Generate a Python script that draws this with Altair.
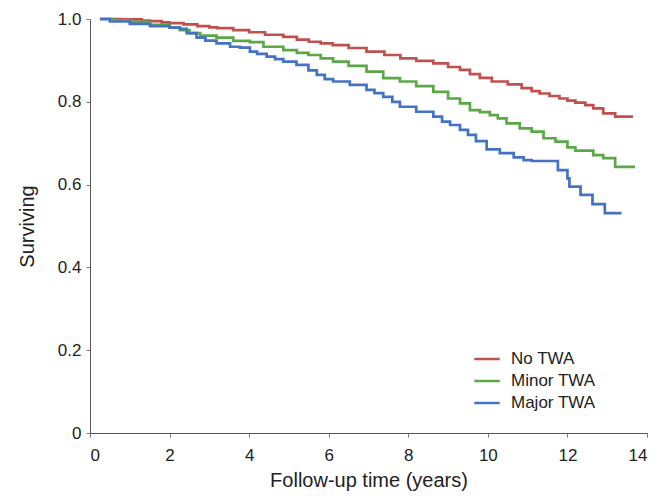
import altair as alt
import pandas as pd

no_t = [0.25, 0.8, 1.3, 1.5, 1.8, 2.0, 2.35, 2.7, 3.0, 3.2, 3.6, 4.0, 4.4, 4.86, 5.2, 5.5, 5.8, 6.1,
        6.5, 6.95, 7.4, 7.8, 8.2, 8.63, 9.0, 9.3, 9.55, 9.8, 10.1, 10.5, 10.85, 11.1, 11.3, 11.55, 11.8,
        12.0, 12.2, 12.45, 12.65, 12.9, 13.2, 13.65]
no_s = [1.0, 0.999, 0.996, 0.995, 0.992, 0.990, 0.987, 0.983, 0.980, 0.978, 0.973, 0.968, 0.962, 0.957,
        0.950, 0.945, 0.941, 0.937, 0.930, 0.921, 0.913, 0.905, 0.899, 0.893, 0.884, 0.877, 0.867, 0.858,
        0.849, 0.842, 0.833, 0.826, 0.820, 0.814, 0.808, 0.803, 0.798, 0.792, 0.784, 0.772, 0.764, 0.764]

minor_t = [0.25, 0.6, 1.0, 1.5, 2.0, 2.26, 2.5, 2.77, 3.18, 3.6, 4.02, 4.36, 4.86, 5.2, 5.49, 5.8, 6.11,
           6.5, 6.95, 7.37, 7.79, 8.2, 8.63, 9.0, 9.3, 9.55, 9.8, 10.05, 10.25, 10.47, 10.8, 11.1, 11.4,
           11.7, 12.0, 12.2, 12.65, 12.9, 13.2, 13.7]
minor_s = [1.0, 0.997, 0.993, 0.986, 0.980, 0.973, 0.966, 0.960, 0.955, 0.947, 0.944, 0.933, 0.925,
           0.918, 0.913, 0.905, 0.897, 0.887, 0.873, 0.857, 0.849, 0.838, 0.824, 0.808, 0.796, 0.780,
           0.775, 0.768, 0.760, 0.748, 0.736, 0.728, 0.712, 0.704, 0.690, 0.682, 0.671, 0.664, 0.643,
           0.643]

major_t = [0.25, 0.5, 1.0, 1.51, 2.0, 2.26, 2.43, 2.68, 2.9, 3.18, 3.52, 3.77, 4.02, 4.2, 4.44, 4.65,
           4.86, 5.19, 5.49, 5.7, 5.9, 6.11, 6.53, 6.95, 7.15, 7.37, 7.6, 7.79, 8.2, 8.63, 8.85, 9.05,
           9.3, 9.5, 9.7, 9.97, 10.3, 10.65, 10.9, 11.1, 11.76, 12.0, 12.05, 12.33, 12.63, 12.94, 13.36]
major_s = [1.0, 0.994, 0.988, 0.983, 0.979, 0.976, 0.966, 0.955, 0.948, 0.941, 0.933, 0.931, 0.921,
           0.916, 0.909, 0.903, 0.897, 0.889, 0.876, 0.865, 0.855, 0.849, 0.841, 0.829, 0.821, 0.812,
           0.800, 0.788, 0.776, 0.764, 0.752, 0.744, 0.732, 0.720, 0.705, 0.685, 0.676, 0.666, 0.659,
           0.657, 0.635, 0.615, 0.595, 0.575, 0.553, 0.531, 0.531]

groups = ["No TWA", "Minor TWA", "Major TWA"]
colors = ["#c0504d", "#5aa846", "#4472c4"]

rows = []
for g, ts, ss in zip(groups, [no_t, minor_t, major_t], [no_s, minor_s, major_s]):
    for t, s in zip(ts, ss):
        rows.append({"group": g, "time": t, "surv": s})
df = pd.DataFrame(rows)

font = "Liberation Sans"

chart = alt.Chart(df).mark_line(interpolate="step-after", strokeWidth=2.7).encode(
    x=alt.X("time:Q", scale=alt.Scale(domain=[0, 14], nice=False, zero=True),
            axis=alt.Axis(values=[0, 2, 4, 6, 8, 10, 12, 14], title="Follow-up time (years)",
                          grid=False, labelPadding=10, titlePadding=7)),
    y=alt.Y("surv:Q", scale=alt.Scale(domain=[0, 1], nice=False),
            axis=alt.Axis(values=[0, 0.2, 0.4, 0.6, 0.8, 1.0], title="Surviving", grid=False,
                          labelExpr="datum.value == 0 ? '0' : format(datum.value, '.1f')",
                          labelPadding=5, titlePadding=20)),
    color=alt.Color("group:N", scale=alt.Scale(domain=groups, range=colors),
                    legend=alt.Legend(title=None, orient="none", legendX=383, legendY=326,
                                      symbolType="stroke", symbolStrokeWidth=2.5, symbolSize=650,
                                      labelFontSize=17, labelFont=font, labelColor="#222",
                                      rowPadding=-3, labelOffset=10)),
    detail="group:N",
).properties(
    width=557, height=414,
    autosize=alt.AutoSizeParams(type="none"),
    padding={"left": 82, "top": 11, "right": 9, "bottom": 62},
).configure_view(stroke=None).configure_axis(
    domainColor="#555", tickColor="#777", tickSize=4, labelFont=font, labelFontSize=17,
    labelColor="#222", titleFont=font, titleFontSize=20, titleFontWeight="normal", titleColor="#222",
)

chart.save("out.html", embed_options={"renderer": "svg", "actions": False})
